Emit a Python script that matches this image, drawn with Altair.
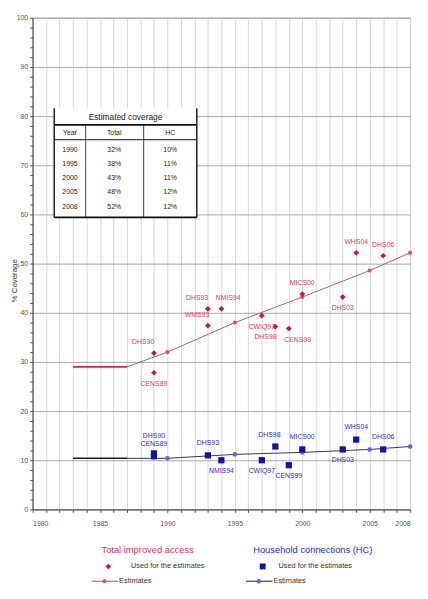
import altair as alt
import pandas as pd

# ---- Survey points: Total improved access ----
tot_years = [1989, 1989, 1993, 1994, 1993, 1997, 1998, 1999, 2000, 2003, 2004, 2006]
tot_values = [31.8, 27.8, 40.8, 40.8, 37.4, 39.4, 37.2, 36.8, 43.8, 43.2, 52.2, 51.6]
tot_labels = ["DHS90", "CENS89", "DHS93", "NMIS94", "WMS93", "CWIQ97", "DHS98",
              "CENS99", "MICS00", "DHS03", "WHS04", "DHS06"]
tot_place = ["aboveleft", "below", "aboveleft", "aboveright", "aboveleft", "below",
             "belowleft", "belowright", "above", "below", "above", "above"]

# ---- Survey points: Household connections ----
hc_years = [1989, 1989, 1993, 1994, 1997, 1998, 1999, 2000, 2003, 2004, 2006]
hc_values = [11.4, 10.8, 11.0, 10.0, 10.0, 12.8, 9.0, 12.2, 12.2, 14.2, 12.2]
hc_labels = ["DHS90", "CENS89", "DHS93", "NMIS94", "CWIQ97", "DHS98", "CENS99",
             "MICS00", "DHS03", "WHS04", "DHS06"]
hc_place = ["top", "above", "above", "below", "below", "aboveleft", "below",
            "above", "below", "above", "above"]

# ---- Estimates ----
flat_years = [1983, 1987]
tot_flat = [29, 29]
hc_flat = [10.4, 10.4]
trend_years = [1987, 1990, 1995, 2000, 2005, 2008]
tot_trend = [29, 32, 38, 43.2, 48.6, 52.2]
hc_trend = [10.4, 10.4, 11.2, 11.6, 12.2, 12.8]
est_years = [1990, 1995, 2000, 2005, 2008]
tot_est = [32, 38, 43.2, 48.6, 52.2]
hc_est = [10.4, 11.2, 11.6, 12.2, 12.8]

# ---- Inset table ----
table_years = ["1990", "1995", "2000", "2005", "2008"]
table_total = ["32%", "38%", "43%", "48%", "52%"]
table_hc = ["10%", "11%", "11%", "12%", "12%"]

RED = "#e8325a"
RED_DARK = "#c8143c"
BLUE = "#2a2ad8"
BLUE_DARK = "#12129a"
FONT = "Liberation Sans"

tot_df = pd.DataFrame({"year": tot_years, "value": tot_values, "label": tot_labels, "place": tot_place})
hc_df = pd.DataFrame({"year": hc_years, "value": hc_values, "label": hc_labels, "place": hc_place})
flat_tot_df = pd.DataFrame({"year": flat_years, "value": tot_flat})
flat_hc_df = pd.DataFrame({"year": flat_years, "value": hc_flat})
trend_tot_df = pd.DataFrame({"year": trend_years, "value": tot_trend})
trend_hc_df = pd.DataFrame({"year": trend_years, "value": hc_trend})
est_tot_df = pd.DataFrame({"year": est_years, "value": tot_est})
est_hc_df = pd.DataFrame({"year": est_years, "value": hc_est})

x_axis = alt.Axis(
    values=list(range(1980, 2009)), tickCount=60, labelOverlap=False,
    labelExpr="(datum.value % 5 == 0 || datum.value == 2008) ? datum.label : ''",
    format="d", title=None, grid=True, gridColor="#d8d8d8", gridWidth=1,
    tickSize=3, tickColor="#555", domainColor="#444",
    labelFontSize=7, labelColor="#555", labelPadding=7, labelFont=FONT,
)
y_axis = alt.Axis(
    values=list(range(0, 101, 2)), tickCount=80, labelOverlap=False,
    labelExpr="datum.value % 10 == 0 ? datum.label : ''",
    title="% Coverage", titleFontSize=8, titleFont=FONT, titleColor="#333",
    titleFontWeight="normal", titleX=-18, titleY=267, titleBaseline="middle",
    grid=True, gridColor="#a8a8a8", gridWidth=1,
    gridOpacity=alt.condition("datum.value % 10 == 0", alt.value(1), alt.value(0)),
    tickSize=3, tickColor="#555", domainColor="#444",
    labelFontSize=7, labelColor="#555", labelPadding=2, labelFont=FONT,
)

X = alt.X("year:Q", scale=alt.Scale(domain=[1980, 2008], nice=False, zero=False), axis=x_axis)
Y = alt.Y("value:Q", scale=alt.Scale(domain=[0, 100], nice=False), axis=y_axis)
Xn = alt.X("year:Q")
Yn = alt.Y("value:Q")

base = alt.Chart(flat_tot_df).mark_line(color="#e02040", strokeWidth=1.6).encode(x=X, y=Y)
flat_hc = alt.Chart(flat_hc_df).mark_line(color="#1a1a40", strokeWidth=1.4).encode(x=Xn, y=Yn)
trend_tot = alt.Chart(trend_tot_df).mark_line(color="#b04860", strokeWidth=0.9).encode(x=Xn, y=Yn)
trend_hc = alt.Chart(trend_hc_df).mark_line(color="#1a1a50", strokeWidth=0.9).encode(x=Xn, y=Yn)
est_tot = alt.Chart(est_tot_df).mark_point(shape="circle", filled=True, size=18, color="#e04a78", opacity=1).encode(x=Xn, y=Yn)
est_hc = alt.Chart(est_hc_df).mark_point(shape="circle", filled=True, size=22, color="#5a66e6", opacity=1).encode(x=Xn, y=Yn)
pts_tot = alt.Chart(tot_df).mark_point(shape="diamond", filled=True, size=34, color=RED_DARK, opacity=1).encode(x=Xn, y=Yn)
pts_hc = alt.Chart(hc_df).mark_point(shape="square", filled=True, size=40, color=BLUE_DARK, opacity=1).encode(x=Xn, y=Yn)

red_off = {"above": (0, -11), "below": (0, 11), "aboveleft": (-11, -11), "aboveright": (7, -11),
           "belowleft": (-10, 11), "belowright": (9, 12)}
blue_off = {"top": (0, -18), "above": (0, -13), "below": (0, 11), "aboveleft": (-6, -12)}


def label_layers(df, offsets, color):
    layers = []
    for key, (dx, dy) in offsets.items():
        layers.append(
            alt.Chart(df).transform_filter(alt.datum.place == key)
            .mark_text(dx=dx, dy=dy, fontSize=7, font=FONT, color=color)
            .encode(x=Xn, y=Yn, text="label:N")
        )
    return layers


lab_tot = label_layers(tot_df, red_off, RED)
lab_hc = label_layers(hc_df, blue_off, BLUE)

# ---- Inset table drawing ----
one = pd.DataFrame({"k": [0]})
tbl = []
tbl.append(alt.Chart(one).mark_rect(color="white").encode(
    x=alt.value(22), x2=alt.value(167), y=alt.value(92), y2=alt.value(203)))
for xv in (22, 167):
    tbl.append(alt.Chart(one).mark_rule(color="#111", strokeWidth=1.4).encode(
        x=alt.value(xv), y=alt.value(92), y2=alt.value(203)))
for xv in (54, 113):
    tbl.append(alt.Chart(one).mark_rule(color="#111", strokeWidth=0.8).encode(
        x=alt.value(xv), y=alt.value(109), y2=alt.value(203)))
for yv, w in ((109, 1.8), (124, 1.0), (203, 1.8)):
    tbl.append(alt.Chart(one).mark_rule(color="#111", strokeWidth=w).encode(
        x=alt.value(22), x2=alt.value(167), y=alt.value(yv)))
tbl.append(alt.Chart(one).mark_text(text="Estimated coverage", fontSize=8.5, font=FONT, color="#222").encode(
    x=alt.value(94.5), y=alt.value(101)))
for txt, xv in (("Year", 38), ("Total", 83), ("HC", 140)):
    tbl.append(alt.Chart(one).mark_text(text=txt, fontSize=7, font=FONT, color="#222").encode(
        x=alt.value(xv), y=alt.value(117)))
for col, xv in ((table_years, 38), (table_total, 83), (table_hc, 140)):
    tbl.append(alt.Chart(one).mark_text(text=col, fontSize=7, font=FONT, color="#222",
                                        lineHeight=14.5, baseline="top").encode(
        x=alt.value(xv), y=alt.value(130)))

# ---- Legend ----
R1, R2, R3 = 541, 558, 573
leg = []
leg.append(alt.Chart(one).mark_text(text="Total improved access", fontSize=9.5, font=FONT, color=RED).encode(
    x=alt.value(117), y=alt.value(R1)))
leg.append(alt.Chart(one).mark_text(text="Household connections (HC)", fontSize=9.5, font=FONT, color=BLUE).encode(
    x=alt.value(285), y=alt.value(R1)))
leg.append(alt.Chart(one).mark_point(shape="diamond", filled=True, size=30, color=RED_DARK, opacity=1).encode(
    x=alt.value(77), y=alt.value(R2)))
leg.append(alt.Chart(one).mark_text(text="Used for the estimates", fontSize=7.5, font=FONT, color="#333", align="left").encode(
    x=alt.value(100), y=alt.value(R2)))
leg.append(alt.Chart(one).mark_point(shape="square", filled=True, size=36, color=BLUE_DARK, opacity=1).encode(
    x=alt.value(234), y=alt.value(R2)))
leg.append(alt.Chart(one).mark_text(text="Used for the estimates", fontSize=7.5, font=FONT, color="#333", align="left").encode(
    x=alt.value(250), y=alt.value(R2)))
leg.append(alt.Chart(one).mark_rule(color="#b04860", strokeWidth=1).encode(
    x=alt.value(60), x2=alt.value(87), y=alt.value(R3)))
leg.append(alt.Chart(one).mark_point(shape="circle", filled=True, size=18, color="#e04a78", opacity=1).encode(
    x=alt.value(73), y=alt.value(R3)))
leg.append(alt.Chart(one).mark_text(text="Estimates", fontSize=7.5, font=FONT, color="#333", align="left").encode(
    x=alt.value(88), y=alt.value(R3)))
leg.append(alt.Chart(one).mark_rule(color="#1a1a50", strokeWidth=1).encode(
    x=alt.value(217), x2=alt.value(244), y=alt.value(R3)))
leg.append(alt.Chart(one).mark_point(shape="circle", filled=True, size=22, color="#5a66e6", opacity=1).encode(
    x=alt.value(230), y=alt.value(R3)))
leg.append(alt.Chart(one).mark_text(text="Estimates", fontSize=7.5, font=FONT, color="#333", align="left").encode(
    x=alt.value(245), y=alt.value(R3)))

chart = alt.layer(
    base, flat_hc, trend_tot, trend_hc, est_tot, est_hc, pts_tot, pts_hc,
    *lab_tot, *lab_hc, *tbl, *leg
).properties(
    width=384, height=500,
    autosize=alt.AutoSizeParams(type="none"),
    padding={"left": 25, "top": 5, "right": 10, "bottom": 78},
    background="white",
).configure_view(stroke="#999", strokeWidth=0.8)

chart.save("out.html", embed_options={"renderer": "svg", "actions": False})
